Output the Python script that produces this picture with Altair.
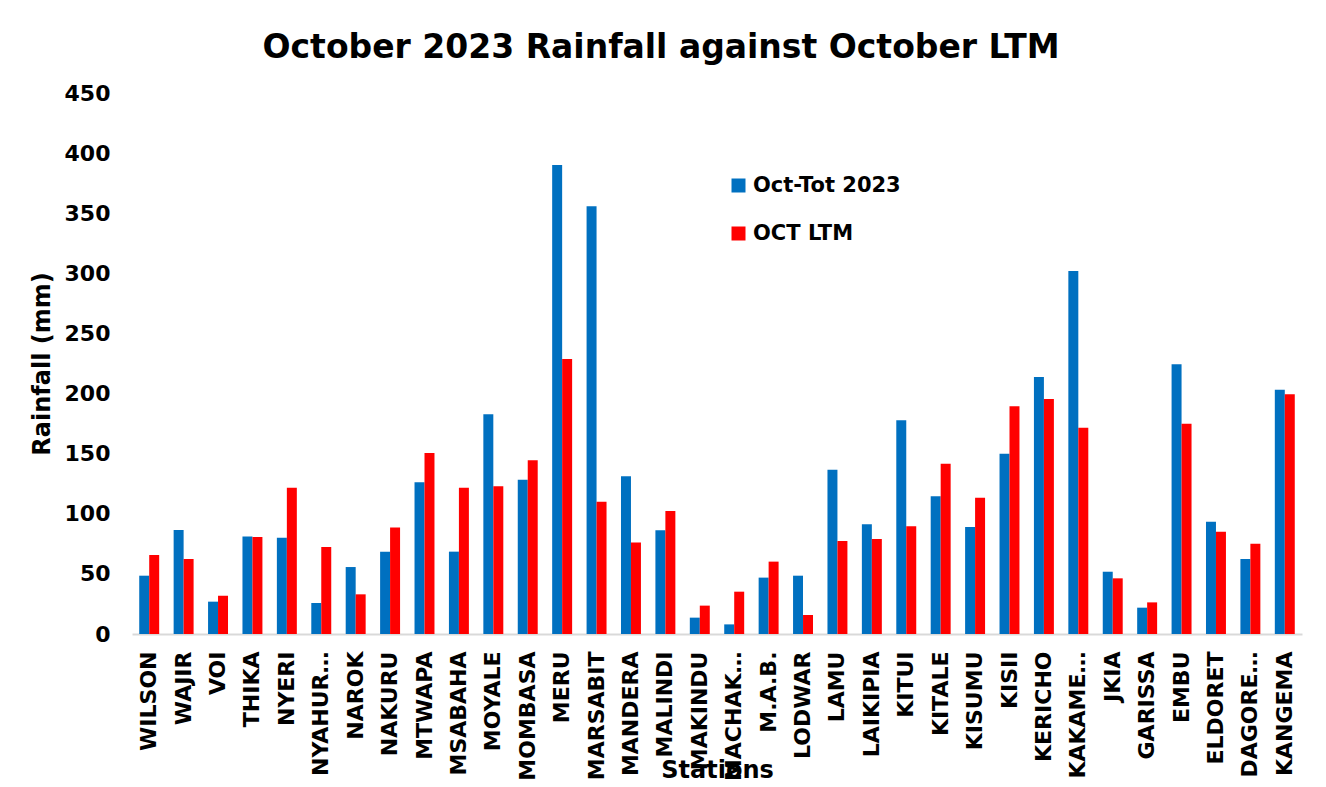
import altair as alt
import pandas as pd

stations = ["WILSON", "WAJIR", "VOI", "THIKA", "NYERI", "NYAHURURU", "NAROK", "NAKURU",
            "MTWAPA", "MSABAHA", "MOYALE", "MOMBASA", "MERU", "MARSABIT", "MANDERA",
            "MALINDI", "MAKINDU", "MACHAKOS", "M.A.B.", "LODWAR", "LAMU", "LAIKIPIA",
            "KITUI", "KITALE", "KISUMU", "KISII", "KERICHO", "KAKAMEGA", "JKIA",
            "GARISSA", "EMBU", "ELDORET", "DAGORETTI", "KANGEMA"]
oct_2023 = [48.5, 86.5, 26.9, 81.2, 80.1, 25.8, 55.7, 68.5, 126.2, 68.5, 182.7, 128.4,
            390.1, 355.7, 131.2, 86.2, 13.6, 8.0, 46.9, 48.5, 136.7, 91.2, 177.7, 114.5,
            89.0, 150.0, 213.8, 301.9, 51.8, 21.9, 224.3, 93.4, 62.4, 203.2]
oct_ltm = [65.7, 62.4, 31.9, 80.7, 121.7, 72.4, 33.0, 88.5, 150.6, 121.7, 122.8, 144.5,
           228.7, 110.1, 76.2, 102.3, 23.6, 35.2, 60.2, 15.8, 77.4, 79.0, 89.6, 141.7,
           113.4, 189.4, 195.5, 171.6, 46.3, 26.3, 174.9, 85.1, 75.1, 199.4]
series_names = ["Oct-Tot 2023", "OCT LTM"]
series_colors = ["#0070C0", "#FF0000"]
y_ticks = [0, 50, 100, 150, 200, 250, 300, 350, 400, 450]

rows = []
for i, s in enumerate(stations):
    rows.append({"Station": s, "Series": series_names[0], "Rain": oct_2023[i]})
    rows.append({"Station": s, "Series": series_names[1], "Rain": oct_ltm[i]})
df = pd.DataFrame(rows)

FONT = "DejaVu Sans"

chart = alt.Chart(df).mark_bar().encode(
    x=alt.X("Station:N", sort=stations,
            scale=alt.Scale(paddingInner=0.42, paddingOuter=0.21),
            axis=alt.Axis(title="Stations", labelAngle=-90, labelAlign="right",
                          labelBaseline="middle", labelFontSize=22, labelFontWeight="bold",
                          labelFont=FONT, labelColor="#000000", labelLimit=134,
                          labelPadding=17, ticks=False, domainColor="#d9d9d9",
                          domainWidth=2, titleFontSize=24, titleFontWeight="bold",
                          titleFont=FONT, titleColor="#000000", titleY=136,
                          titleBaseline="middle")),
    xOffset=alt.XOffset("Series:N", sort=series_names),
    y=alt.Y("Rain:Q", scale=alt.Scale(domain=[0, 450], nice=False),
            axis=alt.Axis(title="Rainfall (mm)", values=y_ticks, grid=False, domain=False,
                          ticks=False, labelFontSize=22, labelFontWeight="bold",
                          labelFont=FONT, labelColor="#000000", labelPadding=22,
                          titleFontSize=24, titleFontWeight="bold", titleFont=FONT,
                          titleColor="#000000", titlePadding=10)),
    color=alt.Color("Series:N", sort=series_names,
                    scale=alt.Scale(domain=series_names, range=series_colors),
                    legend=alt.Legend(title=None, orient="none", legendX=596, legendY=82,
                                      symbolType="square", symbolSize=196,
                                      labelFontSize=21, labelFontWeight="bold",
                                      labelFont=FONT, labelColor="#000000",
                                      rowPadding=26, labelOffset=4,
                                      symbolStrokeWidth=0)),
).properties(
    width=1170, height=541,
    title=alt.TitleParams("October 2023 Rainfall against October LTM", fontSize=33,
                          fontWeight="bold", font=FONT, color="#000000", dx=-56,
                          offset=17),
    autosize=alt.AutoSizeParams(type="none"),
    padding={"left": 124, "top": 85, "right": 16, "bottom": 150},
).configure_view(stroke=None)

chart.save("out.html", embed_options={"renderer": "svg", "actions": False})
